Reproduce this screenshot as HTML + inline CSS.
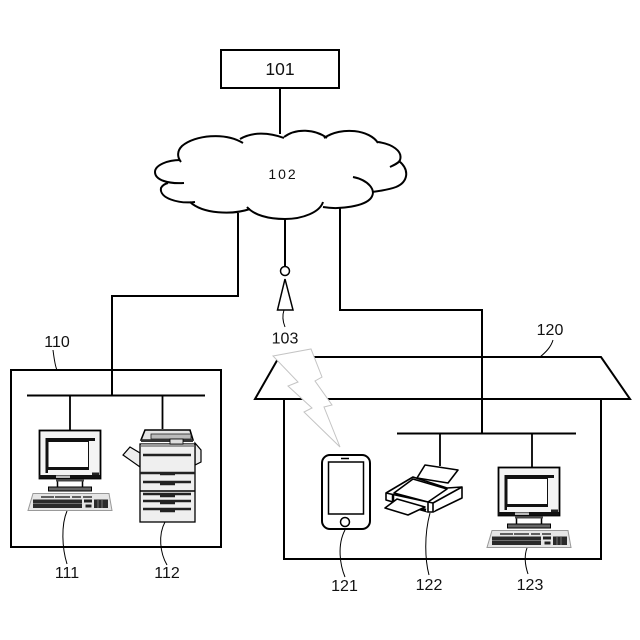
<!DOCTYPE html>
<html><head><meta charset="utf-8"><style>html,body{margin:0;padding:0;background:#fff}svg{display:block}text{font-family:"Liberation Sans",sans-serif;font-size:16px;fill:#111;text-anchor:middle}</style></head><body>
<svg width="640" height="640" viewBox="0 0 640 640" xmlns="http://www.w3.org/2000/svg">
<defs>
<g id="pc">
<rect x="39.500" y="430.500" width="61" height="48" fill="#f4f4f4" stroke="#000" stroke-width="1.800"/>
<path d="M46 438H95V441H89V470H48V473H45.500V438Z" fill="#111"/>
<rect x="48.500" y="442" width="39.500" height="25" fill="#fff"/>
<rect x="39" y="475" width="61" height="3.500" fill="#111"/>
<rect x="56" y="475.500" width="14" height="2.500" fill="#bbb"/>
<rect x="92" y="472.500" width="7" height="2.500" fill="#222"/>
<path d="M57.500 479V487M82.500 479V487" stroke="#000" stroke-width="1.500"/>
<rect x="56" y="479" width="28" height="2.500" fill="#444"/>
<rect x="48.500" y="487" width="43" height="4" fill="#666" stroke="#000"/>
<path d="M33 493.500H109L112 510.500H28Z" fill="#e6e6e6" stroke="#999" stroke-width="1"/>
<path d="M41 497H54M55 497H70M72 497H81M83 497H92" stroke="#333" stroke-width="1.500"/>
<rect x="33" y="499.500" width="49" height="8.500" fill="#2a2a2a"/>
<path d="M33 503.500H82" stroke="#888" stroke-width=".7"/>
<rect x="84" y="499.500" width="8" height="3" fill="#222"/><rect x="85.500" y="504.500" width="6" height="3" fill="#222"/>
<rect x="94" y="499.500" width="14" height="8.500" fill="#2a2a2a"/>
<path d="M98 500V508M102 500V508" stroke="#999" stroke-width=".7"/>
</g>
</defs>
<g fill="none" stroke="#000" stroke-width="2">
<rect x="221" y="50" width="118" height="38"/>
<path d="M280 88V134"/>
<path d="M238 213V296H112V396"/>
<path d="M285 218V267"/>
<path d="M340 207V310H482V433"/>
<rect x="11" y="370" width="210" height="177"/>
<path d="M27 395.500H205"/>
<path d="M70 395V430M162.500 395V429" stroke-width="1.800"/>
<path d="M279 357H601L630 399H255ZM284 399V559H601V399"/>
<path d="M397 433.500H576"/>
<path d="M440 433V466M532 433V467" stroke-width="1.800"/>
<!-- cloud -->
<path fill="#fff" stroke="none" d="M180 160C160 165 150 175 160 185C155 195 175 205 195 202C215 215 235 212 250 208C270 222 305 222 323 205C350 212 370 205 373 192C400 190 415 170 400 160C405 145 390 142 378 140C365 125 340 130 325 137C310 128 295 130 282 137C265 130 250 130 240 140C215 130 170 135 180 160Z"/>
<g stroke-width="2">
<path d="M243 143C225 132 195 135 182 146C177 151 177 157 181 162"/>
<path d="M240 139C252 132 268 132 284 138"/>
<path d="M284 137C296 128 315 129 327 138"/>
<path d="M324 138C342 126 370 130 378 143"/>
<path d="M378 142C392 144 403 151 400 160C399 163 394 165 390 167"/>
<path d="M399 161C410 170 408 182 396 187C388 190 380 191 372 192"/>
<path d="M353 177C368 180 377 190 371 198C365 206 340 210 323 207"/>
<path d="M323 202C320 212 303 219 285 219C268 219 254 215 247 207"/>
<path d="M250 209C232 215 203 214 190 202"/>
<path d="M195 202C178 204 159 198 161 188C162 186 164 184 168 183"/>
<path d="M184 183C168 184 155 180 155 172C155 165 168 160 180 160"/>
</g>
<circle cx="285" cy="271" r="4.500" stroke-width="1.500"/>
<path d="M285 279L277.500 310H293L285 279Z" stroke-width="1.500"/>
<g stroke-width="1">
<path d="M284 310C282 316 283 322 285 327"/>
<path d="M53 350C54 358 55 366 57 370"/>
<path d="M553 340C551 347 546 352 540 357"/>
<path d="M67 511C61 525 62 548 67 564"/>
<path d="M165 522C158 535 160 553 167 565"/>
<path d="M345 530C337 545 340 565 345 577"/>
<path d="M430 513C424 535 425 560 429 575"/>
<path d="M527 548C524 556 525 565 528 574"/>
</g>
</g>
<polygon points="273,356 311,349 322,377 315,381 332,405 324,407 340,447 304,412 312,408 288,386 298,382" fill="#fff" stroke="#c4c4c4" stroke-width="1"/>
<use href="#pc"/>
<use href="#pc" x="459" y="37"/>
<!-- copier -->
<g stroke="#000" fill="#fff">
<path d="M123 455L130 447L140 453V467Z" stroke-width="1.200" fill="#eee"/>
<path d="M195 443L201 450V462L195 465Z" stroke-width="1.200" fill="#eee"/>
<rect x="140" y="444" width="55" height="78" stroke-width="1.300" fill="#efefef"/>
<path d="M141 440L145 430H190L193 440Z" stroke-width="1.600" fill="#e4e4e4"/>
<rect x="151" y="434" width="40" height="5" fill="#bbb" stroke="#222" stroke-width=".8"/>
<rect x="141" y="439.500" width="52" height="2.500" fill="#333" stroke="none"/>
<rect x="141" y="444" width="53" height="3" fill="#999" stroke="none"/>
<rect x="170" y="439" width="13" height="5" fill="#ddd" stroke-width=".8"/>
<path d="M140 473H195" stroke-width="2.500" stroke="#222"/>
<path d="M140 491H195" stroke-width="1.500"/>
<path d="M143 455H191M143 482H191M143 494H191M143 501H191M143 509H191" stroke-width="2.400" stroke="#222"/>
<path d="M160 474H175M160 484H175M160 496H175M160 503H175M160 511H175" stroke-width="2.500" stroke="#222"/>
</g>
<!-- phone -->
<g stroke="#000" fill="#fff" stroke-width="2">
<rect x="322" y="455" width="48" height="74" rx="8"/>
<rect x="328.500" y="462" width="35" height="52" stroke-width="1.500"/>
<circle cx="345" cy="522" r="4.500" stroke-width="1.500"/>
<path d="M341 458.500H349" stroke-width="1.500"/>
</g>
<!-- printer -->
<g stroke="#000" fill="#fff" stroke-width="1.600" stroke-linejoin="round">
<path d="M425 465L458 470L448 483L417 478Z"/>
<path d="M386 493L413 477L447 488L462 487V498L433 512H428L386 500Z"/>
<path d="M394 493L413 479L447 489L428 502ZM386 493L428 502V512M433 512V503L462 487M428 502L433 503"/>
<path d="M393 494V501L426 510" fill="none" stroke-width="2.500"/>
<path d="M385 508L397 499L425 507L408 515Z"/>
</g>
<text x="280" y="75" style="font-size:17.500px">101</text>
<text x="283" y="179" style="font-size:14px;letter-spacing:2px">102</text>
<text x="285" y="343.500">103</text>
<text x="57" y="347">110</text>
<text x="550" y="335">120</text>
<text x="67" y="578">111</text>
<text x="167" y="578">112</text>
<text x="344.500" y="591">121</text>
<text x="429" y="590">122</text>
<text x="530" y="590">123</text>
</svg>
</body></html>
